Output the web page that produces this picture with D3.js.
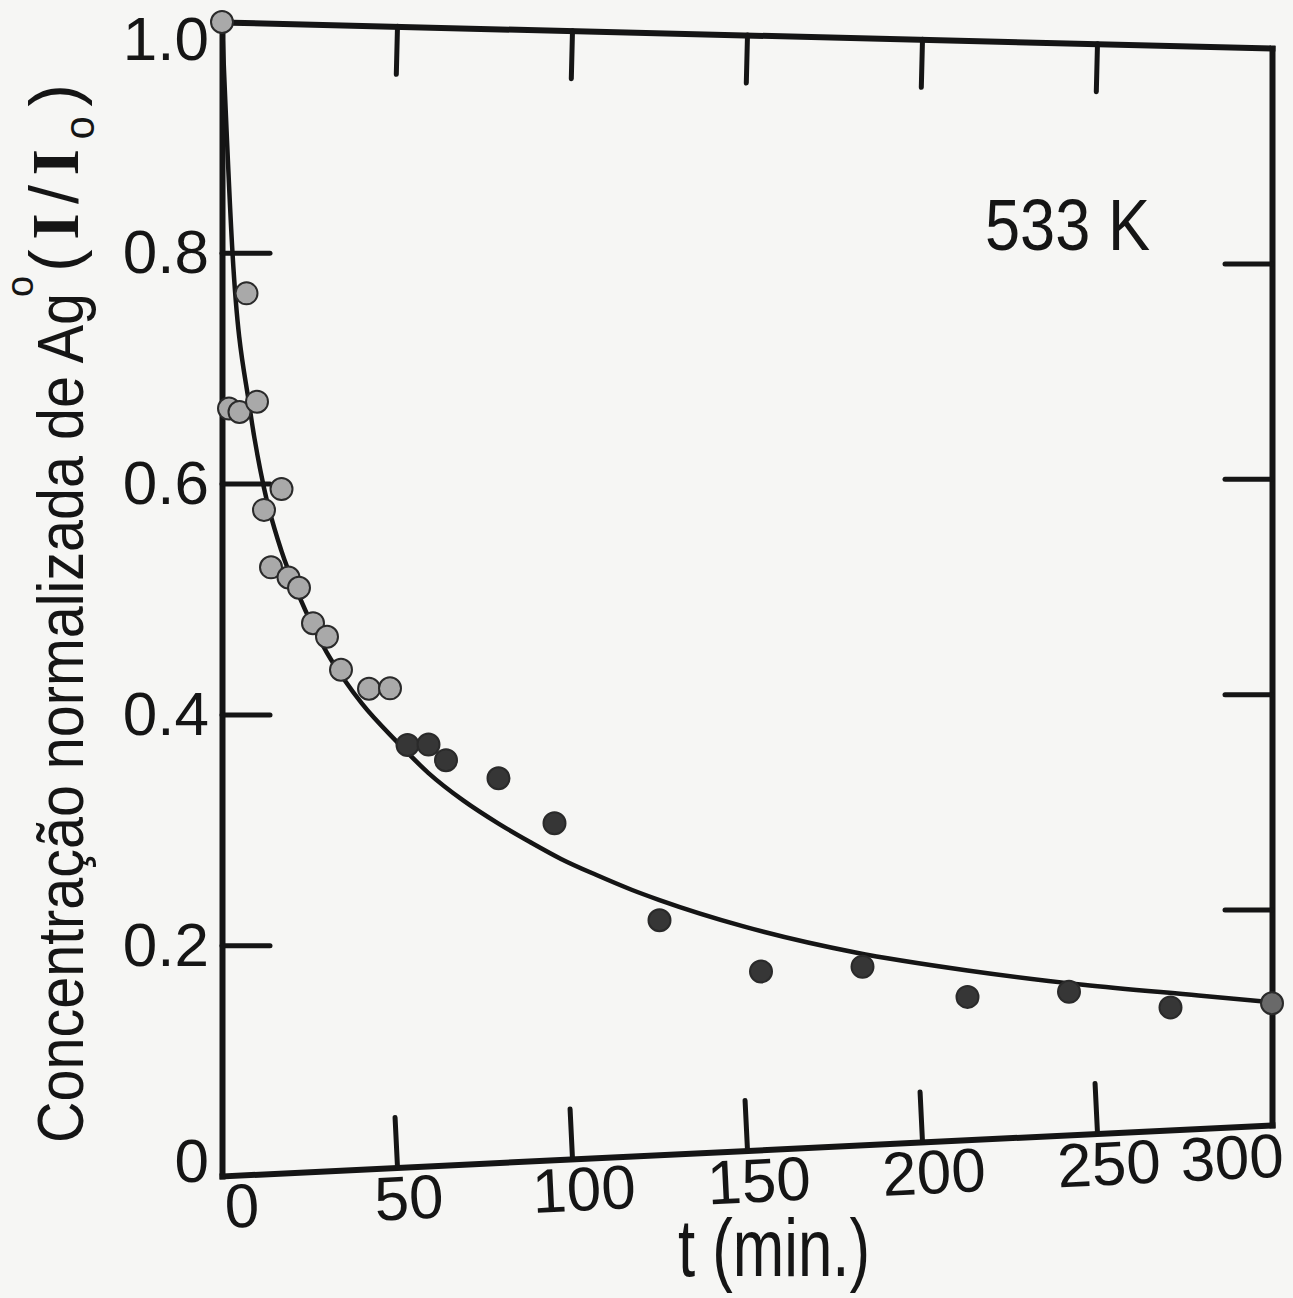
<!DOCTYPE html>
<html>
<head>
<meta charset="utf-8">
<script src="https://cdn.jsdelivr.net/npm/d3@7"></script>
<style>
    body { margin: 0; background: #f6f6f4; }
    svg { display: block; }
    .axis path.domain { stroke: #151515; stroke-width: 6; stroke-linecap: square; }
    .axis line { stroke: #151515; stroke-width: 5; stroke-linecap: round; }
    .axis text { font-family: "Liberation Sans", Arial, sans-serif; font-size: 62px; fill: #151515; }
    .label { font-family: "Liberation Sans", Arial, sans-serif; fill: #151515; }
</style>
</head>
<body>
<div id="chart"></div>
<script>
// measured points, t in minutes, value = I/I0
var pointT = [0, 2, 5, 7, 10, 12, 14, 17, 19, 22, 26, 30, 34, 42, 48, 53, 59, 64, 79, 95, 125, 154, 183, 213, 242, 271, 300];
var pointV = [1.0, 0.665, 0.662, 0.765, 0.671, 0.577, 0.527, 0.595, 0.518, 0.509, 0.478, 0.466, 0.437, 0.420, 0.420,
    0.370, 0.370, 0.356, 0.339, 0.298, 0.209, 0.160, 0.161, 0.130, 0.131, 0.113, 0.113];

// fitted curve
var fitT = [0, 3, 8, 12, 17, 22, 30, 35, 40, 50, 59, 69, 79, 88, 97, 107, 117, 125, 149, 181, 213, 246, 279, 300];
var fitV = [1.0, 0.800, 0.664, 0.596, 0.541, 0.502, 0.452, 0.428, 0.407, 0.373, 0.345, 0.320, 0.299, 0.282, 0.266,
    0.251, 0.237, 0.227, 0.201, 0.174, 0.154, 0.137, 0.123, 0.114];

var xTicks = [0, 50, 100, 150, 200, 250, 300];
var yTicks = [0, 0.2, 0.4, 0.6, 0.8, 1.0];

var svgWidth = 1293;
var svgHeight = 1298;

// the scanned frame is not square: corners of the box
var left = 222, right = 1272;
var topLeft = 22, topRight = 48;
var bottomLeft = 1176, bottomRight = 1125;

var svg = d3.select("#chart")
    .append("svg")
    .attr("width", svgWidth)
    .attr("height", svgHeight);

var xScale = d3.scaleLinear().domain([0, 300]).range([left, right]);
var uScale = d3.scaleLinear().domain([0, 300]).range([0, 1]);
var yLeft = d3.scaleLinear().domain([0, 1]).range([bottomLeft, topLeft]);
var yRight = d3.scaleLinear().domain([0, 1]).range([bottomRight, topRight]);

// y position blends the left and right y-scales across the warped box
function px(t) { return xScale(t); }
function py(t, v) {
    var u = uScale(t);
    return yLeft(v) * (1 - u) + yRight(v) * u;
}

var points = pointT.map((t, i) => ({ t: t, v: pointV[i] }));
var fit = fitT.map((t, i) => ({ t: t, v: fitV[i] }));

// fitted curve
var line = d3.line()
    .x(d => px(d.t))
    .y(d => py(d.t, d.v))
    .curve(d3.curveMonotoneX);

svg.append("path")
    .datum(fit)
    .attr("d", line)
    .attr("fill", "none")
    .attr("stroke", "#151515")
    .attr("stroke-width", 4.5);

// bottom axis (slanted)
var bDx = right - left, bDy = bottomRight - bottomLeft;
var xBottom = d3.scaleLinear().domain([0, 300]).range([0, Math.hypot(bDx, bDy)]);
var bottomAxis = svg.append("g")
    .attr("class", "axis")
    .attr("transform", `translate(${left},${bottomLeft}) rotate(${Math.atan2(bDy, bDx) * 180 / Math.PI})`)
    .call(d3.axisBottom(xBottom)
        .tickValues(xTicks)
        .tickSizeInner(-50)
        .tickSizeOuter(0)
        .tickPadding(8)
        .tickFormat(d3.format("d")));
bottomAxis.selectAll(".tick line").filter(d => d === 0 || d === 300).remove();
bottomAxis.selectAll(".tick text").attr("dx", d => d === 0 ? 18 : (d === 300 ? -42 : 10));

// top axis (slanted, ticks only)
var tDx = right - left, tDy = topRight - topLeft;
var xTop = d3.scaleLinear().domain([0, 300]).range([0, Math.hypot(tDx, tDy)]);
var topAxis = svg.append("g")
    .attr("class", "axis")
    .attr("transform", `translate(${left},${topLeft}) rotate(${Math.atan2(tDy, tDx) * 180 / Math.PI})`)
    .call(d3.axisTop(xTop)
        .tickValues(xTicks)
        .tickSizeInner(-48)
        .tickSizeOuter(0)
        .tickFormat(""));
topAxis.selectAll(".tick line").filter(d => d === 0 || d === 300).remove();

// left axis
var leftAxis = svg.append("g")
    .attr("class", "axis")
    .attr("transform", `translate(${left},0)`)
    .call(d3.axisLeft(yLeft)
        .tickValues(yTicks)
        .tickSizeInner(-48)
        .tickSizeOuter(0)
        .tickPadding(13)
        .tickFormat(d => d === 0 ? "0" : d3.format(".1f")(d)));
leftAxis.selectAll(".tick line").filter(d => d === 0 || d === 1).remove();
leftAxis.selectAll(".tick text").attr("y", d => d === 1 ? 18 : (d === 0 ? -14 : 0));

// right axis (ticks only)
var rightAxis = svg.append("g")
    .attr("class", "axis")
    .attr("transform", `translate(${right},0)`)
    .call(d3.axisRight(yRight)
        .tickValues(yTicks)
        .tickSizeInner(-47)
        .tickSizeOuter(0)
        .tickFormat(""));
rightAxis.selectAll(".tick line").filter(d => d === 0 || d === 1).remove();

// data points
var shade = d3.scaleThreshold()
    .domain([50, 299])
    .range(["#a9a9a9", "#363636", "#696969"]);

svg.append("g")
    .selectAll("circle")
    .data(points)
    .enter()
    .append("circle")
    .attr("cx", d => px(d.t))
    .attr("cy", d => py(d.t, d.v))
    .attr("r", 11)
    .attr("fill", d => shade(d.t))
    .attr("stroke", "#2a2a2a")
    .attr("stroke-width", 2);

// y axis title, in three pieces like the hand lettering
svg.append("text")
    .attr("class", "label")
    .attr("transform", "translate(83,1143) rotate(-90)")
    .attr("textLength", 850)
    .attr("lengthAdjust", "spacingAndGlyphs")
    .style("font-size", "64px")
    .text("Concentração normalizada de Ag");

svg.append("text")
    .attr("class", "label")
    .attr("transform", "translate(33,297) rotate(-90)")
    .style("font-size", "38px")
    .text("o");

var yUnit = svg.append("text")
    .attr("class", "label")
    .attr("transform", "translate(78,272) rotate(-90)")
    .attr("textLength", 188)
    .attr("lengthAdjust", "spacing")
    .style("font-size", "68px");
yUnit.append("tspan").text("(");
yUnit.append("tspan").style("font-family", "'Liberation Serif', serif").style("font-weight", "bold").text("I");
yUnit.append("tspan").text("/");
yUnit.append("tspan").style("font-family", "'Liberation Serif', serif").style("font-weight", "bold").text("I");
yUnit.append("tspan").attr("dy", 16).style("font-size", "42px").text("o");
yUnit.append("tspan").attr("dy", -16).text(")");

// x axis title
svg.append("text")
    .attr("class", "label")
    .attr("x", 678)
    .attr("y", 1276)
    .attr("textLength", 192)
    .attr("lengthAdjust", "spacingAndGlyphs")
    .style("font-size", "82px")
    .text("t (min.)");

// temperature tag
svg.append("text")
    .attr("class", "label")
    .attr("x", 985)
    .attr("y", 250)
    .attr("textLength", 165)
    .attr("lengthAdjust", "spacingAndGlyphs")
    .style("font-size", "72px")
    .text("533 K");
</script>
</body>
</html>
